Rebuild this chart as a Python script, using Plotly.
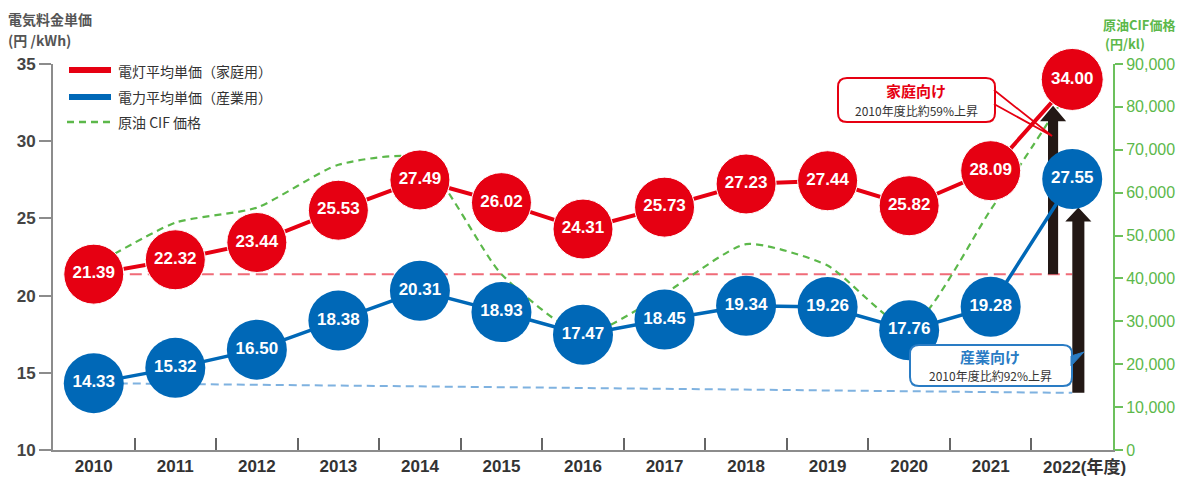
import plotly.graph_objects as go

# ---------------- data ----------------
years = list(range(2010, 2023))
x_labels = [str(y) for y in years]
last_label_suffix = "(年度)"
household = [21.39, 22.32, 23.44, 25.53, 27.49, 26.02, 24.31, 25.73, 27.23, 27.44, 25.82, 28.09, 34.00]
industrial = [14.33, 15.32, 16.50, 18.38, 20.31, 18.93, 17.47, 18.45, 19.34, 19.26, 17.76, 19.28, 27.55]
oil_cif = [43000, 53000, 56500, 66500, 68000, 41000, 27000, 36500, 48000, 43000, 28500, 56000, 85000]
blue_ref_end = 13.7
kwh_ticks = [10, 15, 20, 25, 30, 35]
oil_ticks = list(range(0, 90001, 10000))

RED = "#e60012"
BLUE = "#0068b7"
GREEN = "#5cb84a"
GREEN_AX = "#6cc05c"
DARK = "#231815"
GRAY = "#8c8c8c"
JP = "Noto Sans CJK JP"
NUM = "Liberation Sans"

# ---------------- geometry helpers (pixel -> paper) ----------------
W, H = 1187, 480
L, R, T, B = 53, 1113, 64, 450


def pxp(px):
    return (px - L) / (R - L)


def pyp(py):
    return (B - py) / (B - T)


def rrect(x0, y0, x1, y1, r):
    p = lambda x, y: f"{pxp(x):.5f},{pyp(y):.5f}"
    return (f"M {p(x0 + r, y0)} L {p(x1 - r, y0)} Q {p(x1, y0)} {p(x1, y0 + r)} "
            f"L {p(x1, y1 - r)} Q {p(x1, y1)} {p(x1 - r, y1)} L {p(x0 + r, y1)} "
            f"Q {p(x0, y1)} {p(x0, y1 - r)} L {p(x0, y0 + r)} Q {p(x0, y0)} {p(x0 + r, y0)} Z")


def arrow(xc, base, tip, shaft_hw, head_hw, head_len):
    hb = tip - head_len
    xs = [xc - shaft_hw, xc - shaft_hw, xc - head_hw, xc, xc + head_hw, xc + shaft_hw, xc + shaft_hw, xc - shaft_hw]
    ys = [base, hb, hb, tip, hb, hb, base, base]
    return xs, ys


fig = go.Figure()

# crude oil CIF (base axis, right side) – drawn underneath
fig.add_trace(go.Scatter(
    x=years, y=oil_cif, yaxis="y", mode="lines",
    line=dict(color=GREEN, width=2.2, dash="7px,5px", shape="spline", smoothing=0.6),
    showlegend=False, hoverinfo="skip"))

# black arrows (kWh axis)
ax, ay = arrow(years[-1] - 0.235, household[0], household[-1] - 1.7, 0.062, 0.16, 1.0)
fig.add_trace(go.Scatter(x=ax, y=ay, yaxis="y2", mode="lines", fill="toself",
                         fillcolor=DARK, line=dict(width=0, color=DARK),
                         showlegend=False, hoverinfo="skip"))
bx, by = arrow(years[-1] + 0.075, blue_ref_end, industrial[-1] - 1.85, 0.074, 0.16, 0.9)
fig.add_trace(go.Scatter(x=bx, y=by, yaxis="y2", mode="lines", fill="toself",
                         fillcolor=DARK, line=dict(width=0, color=DARK),
                         showlegend=False, hoverinfo="skip"))

# industrial
fig.add_trace(go.Scatter(
    x=years, y=industrial, yaxis="y2", mode="lines+markers+text",
    line=dict(color=BLUE, width=3.5),
    marker=dict(size=60, color=BLUE, opacity=1),
    text=[f"{v:.2f}" for v in industrial], textposition="middle center",
    textfont=dict(color="white", size=17, family=NUM, weight="bold"),
    cliponaxis=False, showlegend=False, hoverinfo="skip"))

# household
fig.add_trace(go.Scatter(
    x=years, y=household, yaxis="y2", mode="lines+markers+text",
    line=dict(color=RED, width=4),
    marker=dict(size=[60] * (len(years) - 1) + [62], color=RED, opacity=1),
    text=[f"{v:.2f}" for v in household], textposition="middle center",
    textfont=dict(color="white", size=17, family=NUM, weight="bold"),
    cliponaxis=False, showlegend=False, hoverinfo="skip"))

shapes = [
    dict(type="line", xref="x", yref="y2", x0=years[0], x1=years[-1],
         y0=household[0], y1=household[0], layer="below",
         line=dict(color="#f06b78", width=2, dash="12px,6px")),
    dict(type="line", xref="x", yref="y2", x0=years[0], x1=years[-1],
         y0=industrial[0], y1=blue_ref_end, layer="below",
         line=dict(color="#7fb2e0", width=2, dash="8px,5px")),
    # callout boxes
    dict(type="path", xref="paper", yref="paper", path=rrect(838, 78, 995, 122, 9),
         line=dict(color=RED, width=2), fillcolor="white", layer="above"),
    dict(type="path", xref="paper", yref="paper",
         path=f"M {pxp(994)},{pyp(90)} L {pxp(1052)},{pyp(136)} L {pxp(994)},{pyp(104)}",
         line=dict(color=RED, width=1.8), layer="above"),
    dict(type="path", xref="paper", yref="paper", path=rrect(910, 345, 1072, 386, 9),
         line=dict(color="#2a7cc4", width=2), fillcolor="white", layer="above"),
    dict(type="path", xref="paper", yref="paper",
         path=f"M {pxp(1071)},{pyp(356)} L {pxp(1084)},{pyp(352)} L {pxp(1071)},{pyp(366)} Z",
         line=dict(color="#2a7cc4", width=1), fillcolor="#2a7cc4", layer="above"),
    # legend glyphs
    dict(type="line", xref="paper", yref="paper", x0=pxp(69), x1=pxp(111), y0=pyp(70), y1=pyp(70),
         line=dict(color=RED, width=6)),
    dict(type="line", xref="paper", yref="paper", x0=pxp(69), x1=pxp(111), y0=pyp(97), y1=pyp(97),
         line=dict(color=BLUE, width=6)),
    dict(type="line", xref="paper", yref="paper", x0=pxp(67), x1=pxp(113), y0=pyp(122), y1=pyp(122),
         line=dict(color=GREEN, width=2.5, dash="7px,5px")),
]


def ann(text, px, py, size, color, anchor="left", weight="normal", family=JP):
    return dict(text=text, xref="paper", yref="paper", x=pxp(px), y=pyp(py),
                xanchor=anchor, yanchor="middle", showarrow=False,
                font=dict(size=size, color=color, family=family, weight=weight))


annotations = [
    ann("電灯平均単価（家庭用）", 116, 71, 14, "#333"),
    ann("電力平均単価（産業用）", 116, 97, 14, "#333"),
    ann("原油 CIF 価格", 116, 122, 14, "#333"),
    ann("電気料金単価", 6, 19, 14, "#555", weight="bold"),
    ann("(円 /kWh)", 6, 40, 14, "#555", weight="bold"),
    ann("原油CIF価格", 1139, 24, 13, GREEN, anchor="center", weight="bold"),
    ann("(円/kl)", 1125, 43, 13, GREEN, anchor="center", weight="bold"),
    ann("家庭向け", 916, 90, 15, RED, anchor="center", weight="bold"),
    ann("2010年度比約59%上昇", 916, 110, 12, "#333", anchor="center"),
    ann("産業向け", 990, 356, 15, "#2a7cc4", anchor="center", weight="bold"),
    ann("2010年度比約92%上昇", 990, 375, 12, "#333", anchor="center"),
    # last category label (with unit suffix), placed like the reference
    ann(x_labels[-1] + last_label_suffix, 1128, 467, 17, "#333", anchor="right",
        weight="bold", family=NUM + ", " + JP),
]

tick_text = x_labels[:-1] + [""]

fig.update_layout(
    width=W, height=H,
    margin=dict(l=L, r=W - R, t=T, b=H - B, pad=0),
    paper_bgcolor="white", plot_bgcolor="white",
    showlegend=False,
    xaxis=dict(range=[years[0] - 0.5, years[-1] + 0.5], tickmode="array",
               tickvals=years, ticktext=tick_text, ticks="", automargin=False,
               showline=True, linecolor=GRAY, linewidth=2,
               tickfont=dict(size=17, color="#333", family=NUM, weight="bold"),
               minor=dict(tickmode="array", tickvals=[y + 0.5 for y in years[:-1]],
                          ticks="inside", ticklen=12, tickcolor="#666", tickwidth=1.5),
               showgrid=False, zeroline=False, fixedrange=True),
    yaxis=dict(side="right", range=[0, 90000], tickmode="array", tickvals=oil_ticks,
               tickformat=",d", ticks="outside", ticklen=8, tickwidth=2, tickcolor=GREEN_AX,
               showline=True, linecolor=GREEN_AX, linewidth=2, automargin=False,
               tickfont=dict(size=16, color=GREEN, family=NUM),
               showgrid=False, zeroline=False),
    yaxis2=dict(overlaying="y", side="left", range=[10, 35], tickmode="array",
                tickvals=kwh_ticks, ticks="outside", ticklen=12, tickwidth=2, tickcolor=GRAY,
                showline=True, linecolor=GRAY, linewidth=2, automargin=False,
                tickfont=dict(size=17, color="#444", family=NUM, weight="bold"),
                showgrid=False, zeroline=False),
    shapes=shapes,
    annotations=annotations,
)

fig.write_html("out.html", config={"displayModeBar": False},
               post_script="document.body.style.margin='0px';document.body.style.overflow='hidden';")
